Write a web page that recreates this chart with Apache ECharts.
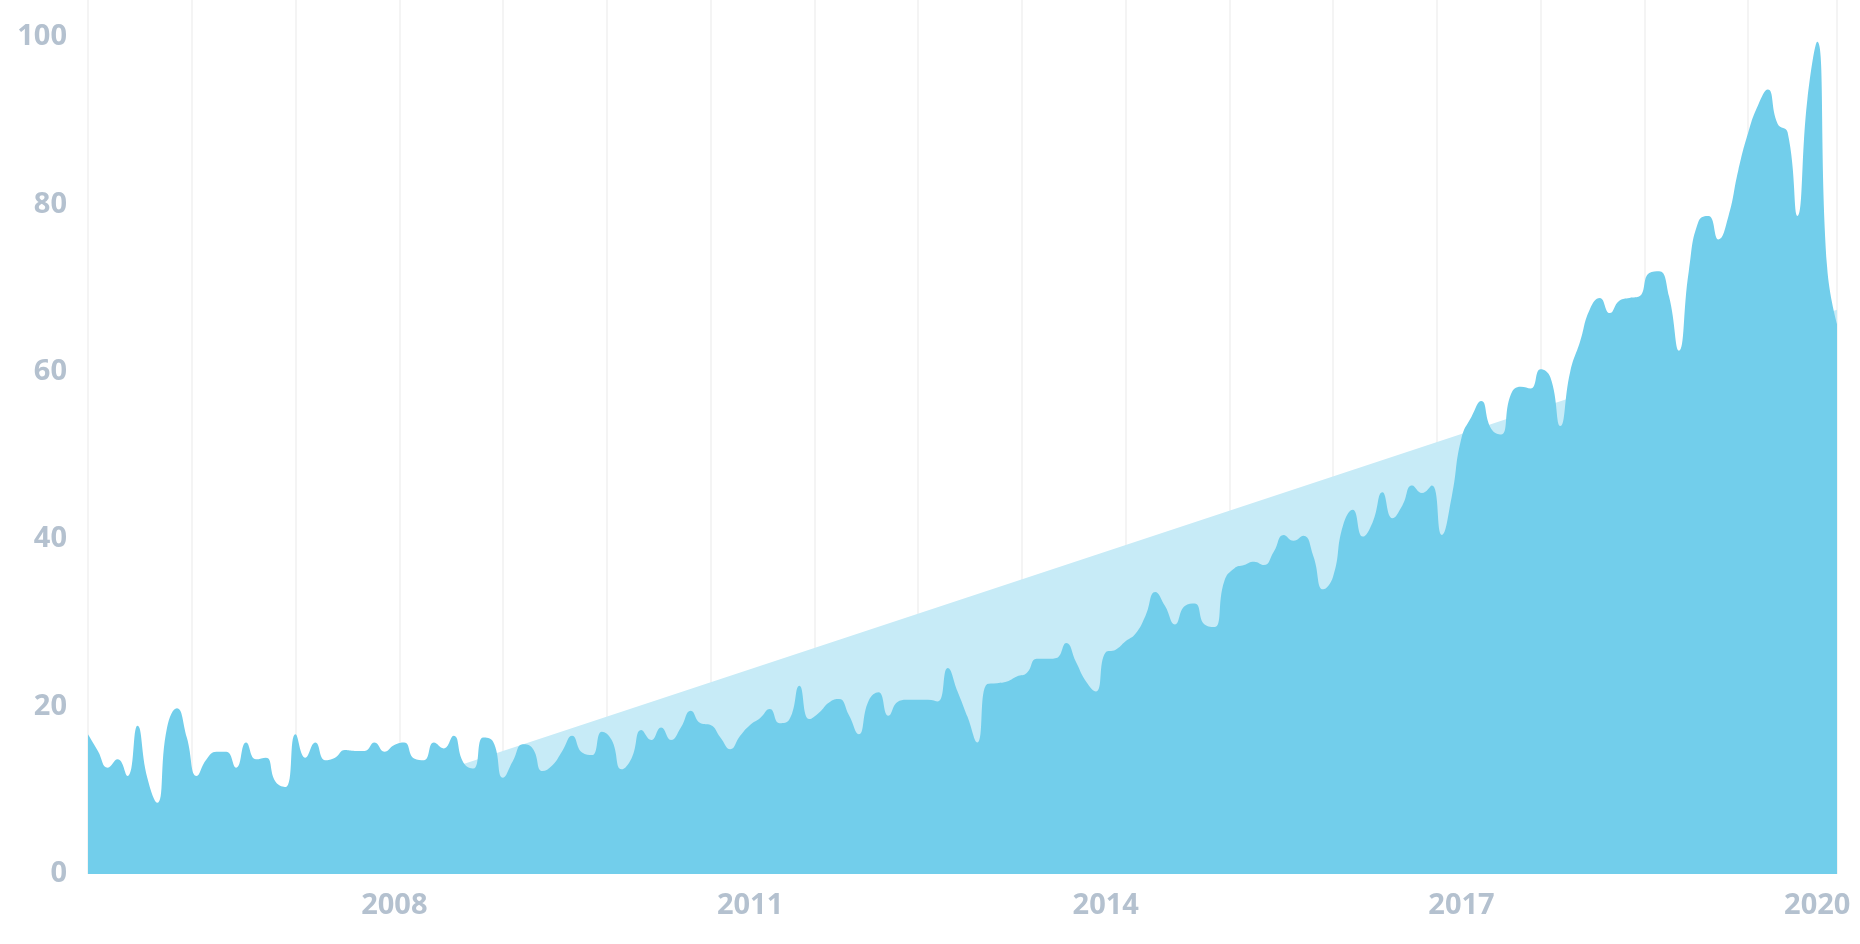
<!DOCTYPE html>
<html lang="en">
<head>
    <meta charset="UTF-8">
    <title>Trend</title>
    <style>
        html, body { margin: 0; padding: 0; background: #fff; }
        #main { width: 1860px; height: 944px; }
    </style>
</head>
<body>
<div id="main"></div>
<script type="text/javascript" src="https://cdn.jsdelivr.net/npm/echarts@6/dist/echarts.min.js"></script>
<script type="text/javascript">

    // monthly interest, from mid 2005 to early 2020
    var values = [
        16.7, 14.7, 12.7, 13.7, 11.7, 17.7, 11.5, 8.5, 17.5, 19.8,
        16.3, 11.7, 13.7, 14.6, 14.6, 12.7, 15.7, 13.7, 13.9, 11.0,
        10.4, 16.7, 13.9, 15.7, 13.6, 13.9, 14.8, 14.7, 14.7, 15.7,
        14.6, 15.4, 15.7, 13.8, 13.6, 15.7, 15.0, 16.5, 13.3, 12.6,
        16.3, 15.8, 11.5, 13.5, 15.5, 15.0, 12.3, 13.0, 14.7, 16.5,
        14.5, 14.2, 17.0, 16.0, 12.5, 13.8, 17.2, 16.0, 17.5, 16.0,
        17.5, 19.5, 18.0, 17.8, 16.3, 14.9, 16.5, 17.8, 18.6, 19.7,
        18.0, 18.5, 22.5, 18.5, 19.3, 20.5, 20.9, 19.0, 16.7, 20.7,
        21.7, 18.9, 20.6, 20.8, 20.8, 20.8, 20.6, 24.6, 21.8, 18.8,
        15.7, 22.7, 22.8, 23.0, 23.6, 24.0, 25.7, 25.7, 25.8, 27.6,
        25.3, 23.0, 21.8, 26.5, 26.8, 27.8, 28.7, 30.8, 33.7, 32.0,
        29.8, 32.0, 32.3, 29.8, 29.5, 35.0, 36.5, 36.9, 37.3, 36.9,
        38.5, 40.5, 39.8, 40.4, 38.0, 34.0, 35.5, 41.6, 43.5, 40.3,
        42.0, 45.6, 42.5, 44.0, 46.4, 45.5, 46.4, 40.5, 45.0, 52.1,
        54.6, 56.5, 53.2, 52.5, 57.3, 58.2, 58.0, 60.3, 59.3, 53.5,
        60.0, 63.6, 67.5, 68.8, 67.0, 68.5, 68.8, 69.0, 71.8, 72.0,
        69.0, 62.5, 72.0, 78.0, 78.6, 75.8, 78.5, 84.0, 88.5, 91.8,
        93.7, 89.6, 88.6, 78.6, 92.5, 99.4, 72.5, 65.7
    ];

    // straight trend line: value at first and last month
    var trendEnds = [-1.7, 67.4];

    // year labels and the month index they sit on
    var yearLabels = ['2008', '2011', '2014', '2017', '2020'];
    var yearIndex = [31, 67, 103, 139, 175];

    var yTicks = [0, 20, 40, 60, 80, 100];

    var last = values.length - 1;
    var seriesData = values.map(function (v, i) { return [i, v]; });
    var trendData = [[0, trendEnds[0]], [last, trendEnds[1]]];

    var labelFont = {
        color: '#b4c1cf',
        fontFamily: 'Open Sans',
        fontWeight: 'bold',
        fontSize: 29
    };

    var myChart = echarts.init(document.getElementById('main'));

    myChart.setOption({
        animation: false,
        grid: {
            left: 88,
            right: 23,
            top: 0,
            bottom: 70,
            containLabel: false,
            outerBoundsMode: 'none'
        },
        xAxis: [
            {
                type: 'value',
                min: 0,
                max: last,
                axisLine: { show: false },
                axisTick: { show: false },
                splitLine: { show: false },
                axisLabel: Object.assign({
                    margin: 17,
                    customValues: yearIndex,
                    formatter: function (val) {
                        var k = yearIndex.indexOf(val);
                        return k >= 0 ? yearLabels[k] : '';
                    }
                }, labelFont)
            },
            {
                // only for the thin vertical guide lines
                type: 'value',
                min: 0,
                max: last,
                interval: 10.5,
                position: 'bottom',
                axisLine: { show: false },
                axisTick: { show: false },
                axisLabel: { show: false },
                splitLine: { show: true, lineStyle: { color: '#f0f0f0', width: 1.5 } }
            }
        ],
        yAxis: {
            type: 'value',
            min: 0,
            max: 104.4,
            axisLine: { show: false },
            axisTick: { show: false },
            splitLine: { show: false },
            axisLabel: Object.assign({
                margin: 21,
                customValues: yTicks
            }, labelFont)
        },
        series: [
            {
                name: 'trend',
                type: 'line',
                data: trendData,
                symbol: 'none',
                lineStyle: { width: 0 },
                areaStyle: { color: '#c7ebf7', opacity: 1 },
                z: 1
            },
            {
                name: 'interest',
                type: 'line',
                data: seriesData,
                smooth: true,
                symbol: 'none',
                lineStyle: { width: 0 },
                areaStyle: { color: '#72ceeb', opacity: 1 },
                z: 2
            }
        ]
    });
</script>
</body>
</html>
